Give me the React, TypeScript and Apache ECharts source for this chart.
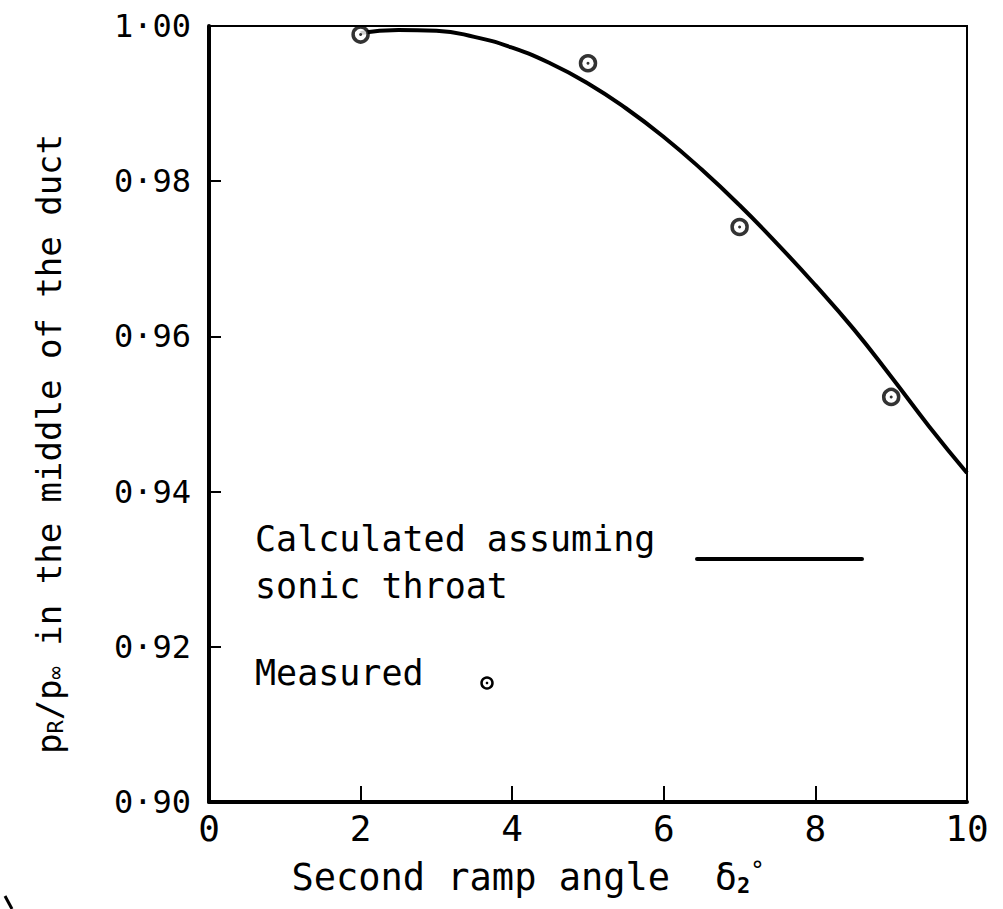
import React, { useEffect, useRef } from "react";
import * as echarts from "echarts";

// Second ramp angle (degrees) along the calculated curve and the ratio read from it
const deltaCalc = [2.0, 2.5, 3.0, 3.5, 4.0, 4.5, 5.0, 5.5, 6.0, 6.5, 7.0, 7.5, 8.0, 8.5, 9.0, 9.5, 10.0];
const ratioCalc = [0.9991, 0.9995, 0.9994, 0.9986, 0.9972, 0.9952, 0.9926, 0.9894, 0.9857, 0.9815, 0.9769, 0.9719, 0.9666, 0.9610, 0.9548, 0.9484, 0.9424];

// Measured points
const deltaMeas = [2, 5, 7, 9];
const ratioMeas = [0.9989, 0.9952, 0.9741, 0.9522];

// Axis ranges and tick spacing
const xTicks = { min: 0, max: 10, interval: 2 };
const yTicks = { min: 0.9, max: 1.0, interval: 0.02 };

const legendCalc = ["Calculated assuming", "sonic throat"];
const legendMeas = "Measured";

const FONT = "DejaVu Sans Mono";

export default function App() {
  const ref = useRef<HTMLDivElement>(null);

  useEffect(() => {
    if (!ref.current) return;
    const chart = echarts.init(ref.current, undefined, { renderer: "svg" });

    const calcData = deltaCalc.map((x, i) => [x, ratioCalc[i]]);
    const measData = deltaMeas.map((x, i) => [x, ratioMeas[i]]);

    chart.setOption({
      animation: false,
      backgroundColor: "#fff",
      grid: {
        left: 209,
        top: 26,
        right: 36,
        bottom: 107,
        show: true,
        borderColor: "#000",
        borderWidth: 2,
        backgroundColor: "transparent",
      },
      xAxis: {
        type: "value",
        min: xTicks.min,
        max: xTicks.max,
        interval: xTicks.interval,
        axisLine: { show: true, onZero: false, lineStyle: { color: "#000", width: 4 } },
        axisTick: { show: true, inside: true, length: 16, lineStyle: { color: "#000", width: 2 } },
        splitLine: { show: false },
        axisLabel: { color: "#000", fontFamily: FONT, fontSize: 36, margin: 8 },
        name: "{t|Second ramp angle  δ}{sub|2}{sup|°}",
        nameLocation: "middle",
        nameGap: 57,
        nameTextStyle: {
          padding: [0, 120, 0, 0],
          rich: {
            t: { fontFamily: FONT, fontSize: 37, color: "#000" },
            sub: { fontFamily: FONT, fontSize: 22, color: "#000", verticalAlign: "bottom", fontWeight: "bold" },
            sup: { fontFamily: FONT, fontSize: 24, color: "#000", verticalAlign: "top" },
          },
        },
      },
      yAxis: {
        type: "value",
        min: yTicks.min,
        max: yTicks.max,
        interval: yTicks.interval,
        axisLine: { show: true, onZero: false, lineStyle: { color: "#000", width: 4 } },
        axisTick: { show: true, inside: true, length: 12, lineStyle: { color: "#000", width: 2 } },
        splitLine: { show: false },
        axisLabel: {
          color: "#000",
          fontFamily: FONT,
          fontSize: 32,
          margin: 18,
          formatter: (v: number) => v.toFixed(2).replace(".", "·"),
        },
        name: "{p|p}{sub|R}{p|/}{p|p}{sub|∞}{p| in the middle of the duct}",
        nameLocation: "middle",
        nameRotate: 90,
        nameGap: 143,
        nameTextStyle: {
          padding: [0, 60, 0, 0],
          rich: {
            p: { fontFamily: FONT, fontSize: 34, color: "#000" },
            sub: { fontFamily: FONT, fontSize: 22, color: "#000", verticalAlign: "bottom" },
          },
        },
      },
      series: [
        {
          name: "Calculated assuming sonic throat",
          type: "line",
          data: calcData,
          smooth: true,
          showSymbol: false,
          lineStyle: { color: "#000", width: 4 },
        },
        {
          name: "Measured",
          type: "scatter",
          data: measData,
          symbol: "circle",
          symbolSize: 15,
          itemStyle: { color: "#fff", borderColor: "#000", borderWidth: 3.5 },
          z: 3,
        },
        {
          name: "Measured centre",
          type: "scatter",
          data: measData,
          symbol: "circle",
          symbolSize: 3,
          itemStyle: { color: "#000" },
          z: 4,
        },
      ],
      graphic: [
        {
          type: "text",
          left: 255,
          top: 515,
          style: {
            text: legendCalc.join("\n"),
            fontFamily: FONT,
            fontSize: 35,
            lineHeight: 47,
            fill: "#000",
          },
        },
        {
          type: "line",
          shape: { x1: 697, y1: 559, x2: 862, y2: 559 },
          style: { stroke: "#000", lineWidth: 4, lineCap: "round" },
        },
        {
          type: "text",
          left: 255,
          top: 655,
          style: { text: legendMeas, fontFamily: FONT, fontSize: 35, fill: "#000" },
        },
        {
          type: "circle",
          shape: { cx: 487, cy: 683, r: 5.5 },
          style: { fill: "#fff", stroke: "#000", lineWidth: 2.5 },
        },
        {
          type: "circle",
          shape: { cx: 487, cy: 683, r: 1.3 },
          style: { fill: "#000" },
        },
        {
          type: "line",
          shape: { x1: 5, y1: 896, x2: 12, y2: 909 },
          style: { stroke: "#000", lineWidth: 3 },
        },
      ],
    });

    return () => chart.dispose();
  }, []);

  return (
    <div
      ref={ref}
      style={{ position: "fixed", left: 0, top: 0, width: 1003, height: 909, background: "#fff" }}
    />
  );
}
